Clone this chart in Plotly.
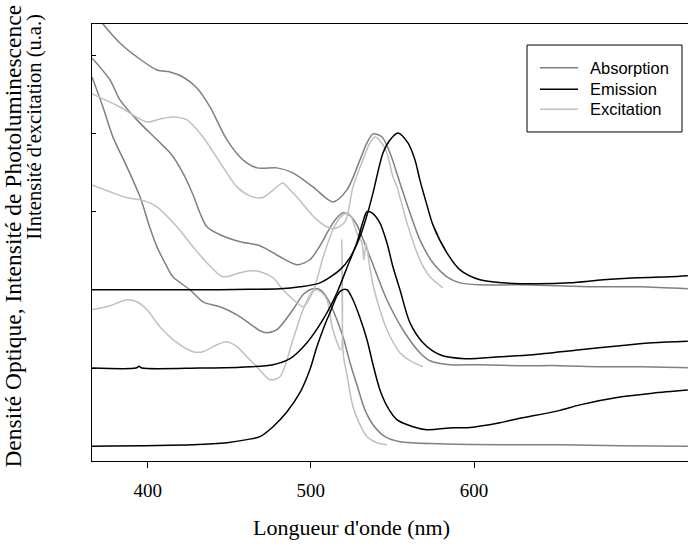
import plotly.graph_objects as go

# Three samples stacked vertically; each spectrum is given relative to its own baseline.
# Wavelengths in nm, intensities in arbitrary units (u.a.).

# --- sample 1 (upper stack) ---
abs1_nm = [365.9, 372.6, 383.0, 393.4, 405.7, 413.7, 421.6, 430.2, 438.2, 448.6, 458.4, 467.0,
           479.2, 489.0, 501.3, 513.5, 522.1, 530.1, 534.4, 538.1, 543.6, 548.5, 554.6, 560.7,
           566.8, 574.8, 583.4, 591.4, 603.6, 628.1, 652.6, 677.1, 701.6, 731.0]
abs1_i = [3.575, 3.396, 3.153, 2.975, 2.809, 2.783, 2.719, 2.579, 2.336, 1.915, 1.660, 1.558,
          1.558, 1.494, 1.315, 1.123, 1.277, 1.660, 1.877, 1.992, 1.953, 1.749, 1.366, 0.983,
          0.638, 0.345, 0.166, 0.089, 0.064, 0.064, 0.051, 0.038, 0.038, 0.013]

em1_nm = [365.9, 432.0, 462.7, 481.1, 493.3, 505.6, 517.8, 523.9, 530.1, 535.0, 538.1, 544.2,
          548.5, 553.4, 559.5, 563.8, 566.8, 571.1, 574.8, 583.4, 591.4, 603.6, 617.7, 638.5,
          658.8, 679.0, 699.8, 720.1, 731.0]
em1_i = [0.0, 0.0, 0.006, 0.013, 0.038, 0.089, 0.255, 0.409, 0.677, 0.996, 1.238, 1.749,
         1.915, 2.004, 1.877, 1.660, 1.404, 1.085, 0.830, 0.472, 0.255, 0.128, 0.089, 0.077,
         0.089, 0.128, 0.153, 0.166, 0.179]

exc1_nm = [365.9, 383.0, 399.6, 407.5, 415.5, 424.1, 433.9, 446.1, 454.7, 462.7, 470.0, 479.2,
           482.8, 487.2, 491.5, 503.7, 513.5, 520.9, 525.8, 531.9, 536.2, 539.3, 543.0, 546.6,
           550.3, 552.8, 558.9, 566.8, 573.0, 580.9]
exc1_i = [2.502, 2.336, 2.145, 2.183, 2.209, 2.170, 1.953, 1.570, 1.315, 1.200, 1.175, 1.315,
          1.366, 1.277, 1.187, 0.894, 0.779, 0.868, 1.315, 1.660, 1.877, 1.953, 1.889, 1.749,
          1.443, 1.315, 0.855, 0.383, 0.166, 0.026]

# --- sample 2 (middle stack) ---
abs2_nm = [365.9, 376.9, 383.0, 393.4, 405.7, 413.7, 421.6, 427.8, 432.0, 436.3, 444.3, 456.6,
           468.8, 481.1, 491.5, 499.4, 505.6, 511.7, 516.0, 519.7, 524.0, 528.2, 536.2, 546.6,
           556.4, 566.8, 573.0, 585.2, 603.6, 628.1, 652.6, 677.1, 701.6, 731.0]
abs2_i = [3.963, 3.682, 3.427, 3.171, 2.916, 2.750, 2.495, 2.214, 1.984, 1.805, 1.703, 1.614,
          1.563, 1.422, 1.320, 1.384, 1.563, 1.792, 1.920, 1.984, 1.946, 1.831, 1.422, 0.873,
          0.490, 0.197, 0.094, 0.043, 0.043, 0.031, 0.031, 0.018, 0.018, 0.005]

em2_nm = [365.9, 392.8, 394.7, 396.5, 432.0, 456.6, 476.8, 487.2, 497.6, 507.4, 516.0, 522.1,
          528.2, 531.9, 534.4, 537.4, 542.3, 546.6, 550.3, 554.6, 560.7, 568.7, 579.1, 594.4,
          615.9, 636.1, 664.9, 689.4, 709.6, 731.0]
em2_i = [0.0, 0.0, 0.022, 0.0, 0.0, 0.011, 0.043, 0.120, 0.324, 0.618, 0.963, 1.282,
         1.601, 1.869, 1.997, 1.984, 1.856, 1.601, 1.295, 1.001, 0.580, 0.324, 0.171, 0.120,
         0.146, 0.171, 0.235, 0.286, 0.324, 0.343]

exc2_nm = [365.9, 376.9, 387.3, 395.3, 399.6, 405.7, 418.0, 427.8, 436.3, 446.1, 456.6, 462.7,
           468.8, 476.8, 482.9, 491.5, 495.2, 501.3, 507.4, 513.5, 517.8, 520.9, 524.0, 528.2,
           531.3, 532.5, 533.8, 535.6, 538.1, 542.3, 546.6, 554.6, 561.9, 568.7]
exc2_i = [2.341, 2.252, 2.175, 2.150, 2.124, 2.061, 1.805, 1.550, 1.346, 1.167, 1.218, 1.243,
          1.231, 1.154, 1.001, 0.835, 0.784, 0.975, 1.409, 1.767, 1.920, 1.971, 1.958, 1.729,
          1.601, 1.384, 1.601, 1.358, 1.065, 0.746, 0.490, 0.197, 0.082, 0.018]

# --- sample 3 (lower stack) ---
abs3_nm = [365.9, 372.6, 378.7, 387.3, 395.3, 401.4, 405.7, 410.6, 415.5, 425.9, 433.9, 444.3,
           454.7, 462.7, 468.8, 473.1, 479.2, 489.0, 495.2, 501.3, 505.6, 509.9, 513.5, 519.7,
           524.0, 528.2, 533.1, 538.1, 545.4, 554.6, 579.1, 615.9, 652.6, 689.4, 731.0]
abs3_i = [4.720, 4.337, 3.954, 3.571, 3.188, 2.792, 2.549, 2.345, 2.166, 2.001, 1.847, 1.783,
          1.681, 1.566, 1.477, 1.452, 1.490, 1.745, 1.937, 2.013, 2.001, 1.898, 1.745, 1.400,
          1.069, 0.788, 0.469, 0.277, 0.124, 0.060, 0.034, 0.022, 0.022, 0.009, 0.003]

em3_nm = [365.9, 427.8, 448.6, 460.8, 468.8, 476.8, 485.4, 493.3, 499.4, 503.7, 508.6, 511.7,
          516.0, 518.4, 522.1, 525.8, 530.1, 534.4, 538.1, 542.3, 547.2, 552.7, 562.6, 571.1,
          587.1, 595.7, 615.9, 628.1, 636.1, 652.6, 664.9, 689.4, 709.6, 731.0]
em3_i = [0.003, 0.022, 0.047, 0.086, 0.124, 0.251, 0.443, 0.686, 0.979, 1.273, 1.554, 1.707,
         1.924, 1.988, 2.001, 1.873, 1.643, 1.362, 1.043, 0.724, 0.494, 0.341, 0.251, 0.213,
         0.239, 0.239, 0.303, 0.360, 0.390, 0.460, 0.530, 0.630, 0.680, 0.720]

exc3_nm = [365.9, 376.9, 387.3, 393.4, 399.6, 407.5, 418.0, 427.8, 433.9, 442.5, 448.6, 454.7,
           460.8, 466.9, 474.9, 481.1, 489.0, 495.2, 500.7, 503.7, 506.8, 509.9, 513.5, 518.4,
           519.0, 519.9, 522.1, 525.8, 530.1, 534.4, 540.5, 546.6]
exc3_i = [1.745, 1.796, 1.873, 1.847, 1.745, 1.528, 1.324, 1.209, 1.209, 1.298, 1.337, 1.273,
          1.145, 1.017, 0.852, 0.890, 1.362, 1.745, 1.975, 2.001, 1.962, 1.873, 1.490, 1.235,
          2.639, 1.171, 0.915, 0.507, 0.277, 0.124, 0.047, 0.022]

# vertical offset of each sample in the stack
offsets = [2, 1, 0]

x_ticks = [400, 500, 600]
y_ticks = [0, 1, 2, 3, 4, 5]

series_names = ["Absorption", "Emission", "Excitation"]
series_colors = ["#808080", "#000000", "#c0c0c0"]

samples = [
    [(abs1_nm, abs1_i), (em1_nm, em1_i), (exc1_nm, exc1_i)],
    [(abs2_nm, abs2_i), (em2_nm, em2_i), (exc2_nm, exc2_i)],
    [(abs3_nm, abs3_i), (em3_nm, em3_i), (exc3_nm, exc3_i)],
]

SERIF = "Liberation Serif, Times New Roman, serif"
SANS = "Liberation Sans, Arial, sans-serif"

fig = go.Figure()

# absorption first, then excitation, emission on top
draw_order = [0, 2, 1]
for k in draw_order:
    for s, off in zip(samples, offsets):
        xs, ys = s[k]
        fig.add_trace(go.Scatter(
            x=xs, y=[v + off for v in ys], mode="lines",
            line=dict(color=series_colors[k], width=1.5, shape="spline", smoothing=0.8),
            name=series_names[k], showlegend=False, hoverinfo="skip"))

# boxed legend in the upper right corner
LEG_BOX = dict(x0=0.7299, x1=0.9899, y0=0.7529, y1=0.9519)
LEG_LINE_X = (0.7517, 0.8154)
LEG_TEXT_X = 0.8322
LEG_ROWS_Y = [0.9000, 0.8506, 0.8048]

shapes = [dict(type="rect", xref="paper", yref="paper", line=dict(color="black", width=1),
               fillcolor="white", layer="above", **LEG_BOX)]
annotations = []
for name, color, yy in zip(series_names, series_colors, LEG_ROWS_Y):
    shapes.append(dict(type="line", xref="paper", yref="paper", x0=LEG_LINE_X[0], x1=LEG_LINE_X[1],
                       y0=yy, y1=yy, line=dict(color=color, width=1.5), layer="above"))
    annotations.append(dict(text=name, xref="paper", yref="paper", x=LEG_TEXT_X, y=yy,
                            xanchor="left", yanchor="middle", showarrow=False,
                            font=dict(family=SANS, size=16.5, color="black")))

# two-line vertical axis title
annotations.append(dict(text="Densité Optique, Intensité de Photoluminescence", xref="paper", yref="paper",
                        x=-0.1326, y=1.05, xanchor="center", yanchor="top", textangle=-90,
                        showarrow=False, font=dict(family=SERIF, size=23.5, color="black")))
annotations.append(dict(text="IIntensité d'excitation (u.a.)", xref="paper", yref="paper",
                        x=-0.0956, y=1.028, xanchor="center", yanchor="top", textangle=-90,
                        showarrow=False, font=dict(family=SERIF, size=20.5, color="black")))

# horizontal axis title
annotations.append(dict(text="Longueur d'onde (nm)", xref="paper", yref="paper",
                        x=0.436, y=-0.1533, xanchor="center", yanchor="middle", showarrow=False,
                        font=dict(family=SERIF, size=22, color="black")))

fig.update_layout(
    width=688, height=545,
    margin=dict(l=92, r=0, t=24, b=84),
    paper_bgcolor="white", plot_bgcolor="white",
    shapes=shapes, annotations=annotations,
    xaxis=dict(range=[365.9, 731.1], tickvals=x_ticks, ticks="outside", ticklen=6,
               tickwidth=1, tickcolor="black", showline=True, linecolor="black", linewidth=1,
               mirror=True, showgrid=False, zeroline=False, ticklabelstandoff=6,
               tickfont=dict(family=SERIF, size=19, color="black")),
    yaxis=dict(range=[-0.187, 5.396], tickvals=y_ticks, ticks="inside", ticklen=4,
               tickwidth=1, tickcolor="black", showticklabels=False, showline=True,
               linecolor="black", linewidth=1, showgrid=False, zeroline=False),
)

fig.write_html("out.html")
